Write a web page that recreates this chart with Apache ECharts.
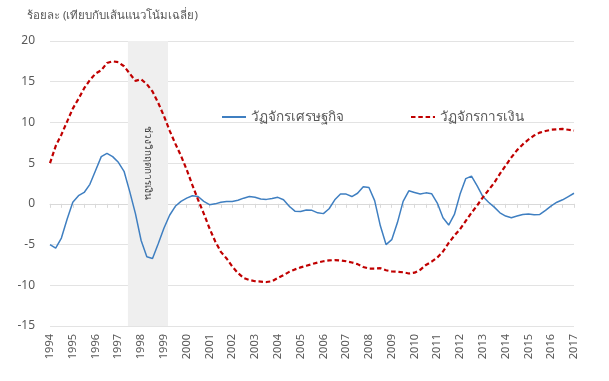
<!DOCTYPE html>
<html><head><meta charset="utf-8">
<script src="https://cdn.jsdelivr.net/npm/echarts@6/dist/echarts.min.js"></script>
<style>html,body{margin:0;padding:0;background:#fff}#c{width:609px;height:381px}</style>
</head><body><div id="c"></div>
<script>
// quarterly data, 1994Q1 .. 2017Q1
const startYear = 1994;
const yearLabels = [1994,1995,1996,1997,1998,1999,2000,2001,2002,2003,2004,2005,2006,2007,2008,2009,2010,2011,2012,2013,2014,2015,2016,2017];
const seriesNames = ['วัฏจักรเศรษฐกิจ', 'วัฏจักรการเงิน'];
const economicCycle = [
 -5.0,-5.45,-4.2,-1.9,0.2,1.0,1.4,2.4,4.1,5.8,
 6.2,5.8,5.1,4.0,1.5,-1.2,-4.5,-6.5,-6.7,-4.9,
 -3.0,-1.4,-0.3,0.3,0.7,1.0,0.9,0.3,-0.1,0.0,
 0.2,0.3,0.3,0.45,0.7,0.9,0.8,0.6,0.55,0.65,
 0.8,0.5,-0.3,-0.9,-0.95,-0.75,-0.8,-1.1,-1.2,-0.6,
 0.5,1.2,1.2,0.9,1.3,2.1,2.0,0.4,-2.7,-5.0,
 -4.4,-2.3,0.3,1.6,1.4,1.2,1.35,1.25,0.1,-1.7,
 -2.6,-1.3,1.2,3.1,3.4,2.2,0.9,0.2,-0.4,-1.1,
 -1.5,-1.7,-1.5,-1.3,-1.25,-1.35,-1.3,-0.8,-0.25,0.2,
 0.5,0.9,1.3
];
const financialCycle = [
 5.0,7.1,8.5,10.1,11.7,12.9,14.2,15.2,16.0,16.4,
 17.3,17.5,17.4,16.9,16.0,15.1,15.3,14.7,13.8,12.4,
 10.8,9.0,7.4,5.9,4.2,2.3,0.5,-1.2,-3.0,-4.6,
 -5.9,-6.7,-7.7,-8.5,-9.1,-9.35,-9.5,-9.55,-9.6,-9.5,
 -9.1,-8.75,-8.35,-8.05,-7.8,-7.6,-7.4,-7.2,-7.05,-6.95,
 -6.9,-6.95,-7.05,-7.2,-7.4,-7.75,-7.95,-7.95,-7.9,-8.15,
 -8.3,-8.35,-8.4,-8.55,-8.45,-8.1,-7.5,-7.1,-6.6,-5.85,
 -4.8,-3.9,-3.1,-2.1,-1.1,-0.2,0.8,1.7,2.6,3.7,
 4.7,5.7,6.6,7.3,7.9,8.4,8.75,8.95,9.1,9.15,
 9.2,9.1,9.0
];
const crisisPeriod = [1997.42, 1999.18];
const crisisLabel = 'ช่วงวิกฤตการเงิน';
const yTitle = 'ร้อยละ (เทียบกับเส้นแนวโน้มเฉลี่ย)';

const toPoints = arr => arr.map((v, i) => [startYear + i / 4, v]);
const xMin = yearLabels[0], xMax = yearLabels[yearLabels.length - 1];
const txt = '#595959';
const font = "'Noto Sans', 'Liberation Sans', sans-serif";

const chart = echarts.init(document.getElementById('c'), null, {renderer: 'canvas'});
chart.setOption({
  animation: false,
  textStyle: {fontFamily: font},
  title: {text: yTitle, left: 27, top: 10, padding: 0,
    textStyle: {fontSize: 11.5, fontWeight: 'normal', color: txt, fontFamily: font}},
  legend: {left: 221, top: 110, padding: 0, itemWidth: 24, itemGap: 66,
    itemStyle: {opacity: 0},
    data: seriesNames, textStyle: {fontSize: 13.5, color: txt, fontFamily: font}},
  grid: {left: 50, right: 35, top: 41, bottom: 55},
  xAxis: [
    {type: 'value', min: xMin, max: xMax, interval: 1, position: 'bottom',
     axisLine: {show: false, onZero: false}, axisTick: {show: false}, splitLine: {show: false},
     axisLabel: {rotate: 90, margin: 8, fontSize: 11, color: txt, formatter: v => String(v)}},
    {type: 'value', min: xMin, max: xMax, interval: 0.5, position: 'bottom',
     axisLine: {show: true, onZero: true, lineStyle: {color: '#d9d9d9', width: 1}},
     axisTick: {show: true, length: 4, lineStyle: {color: '#d9d9d9'}},
     axisLabel: {show: false}, splitLine: {show: false}}
  ],
  yAxis: {type: 'value', min: -15, max: 20, interval: 5,
    axisLine: {show: false}, axisTick: {show: false},
    splitLine: {lineStyle: {color: '#e3e3e3', width: 1}},
    axisLabel: {color: txt, fontSize: 12, margin: 15}},
  series: [
    {name: seriesNames[0], type: 'line', xAxisIndex: 0, data: toPoints(economicCycle), symbol: 'none',
     z: 3, lineStyle: {color: '#3f7fc1', width: 1.5}, itemStyle: {color: '#3f7fc1'},
     markArea: {silent: true, z: 1, itemStyle: {color: '#efefef'},
       label: {show: true, position: 'inside', rotate: -90, offset: [-21, 0], fontSize: 10, color: '#404040'},
       data: [[{name: crisisLabel, xAxis: crisisPeriod[0]}, {xAxis: crisisPeriod[1]}]]}},
    {name: seriesNames[1], type: 'line', xAxisIndex: 0, data: toPoints(financialCycle), symbol: 'none',
     z: 4, lineStyle: {color: '#c00000', width: 2.2, type: [4.5, 2.8]}, itemStyle: {color: '#c00000'}}
  ]
});
</script>
</body></html>
